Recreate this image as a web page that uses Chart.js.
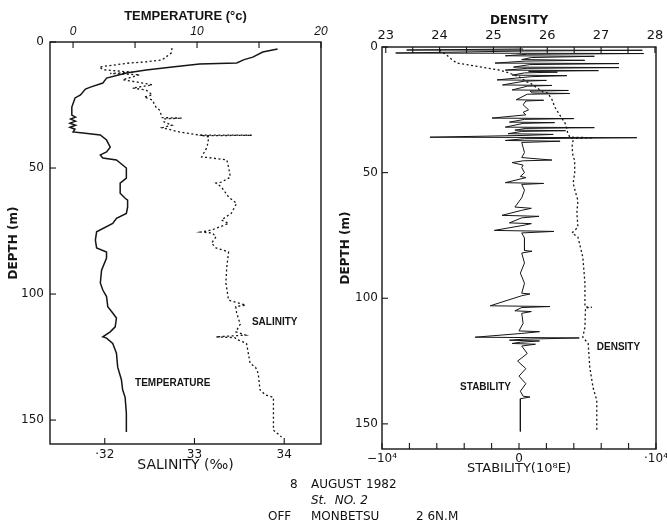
<!DOCTYPE html>
<html>
<head>
<meta charset="utf-8">
<script src="https://cdn.jsdelivr.net/npm/chart.js@4.4.0/dist/chart.umd.min.js"></script>
<style>
  html, body { margin: 0; padding: 0; background: #fff; }
  #page { position: relative; width: 667px; height: 523px; overflow: hidden; font-family: "DejaVu Sans", sans-serif; color: #111; }
  .panel { position: absolute; top: 0; height: 523px; }
  #left { left: 0; width: 332px; }
  #right { left: 332px; width: 335px; }
  .note { position: absolute; font-size: 12px; line-height: 14px; white-space: pre; }
</style>
</head>
<body>
<div id="page">
  <div class="panel" id="left"><canvas id="chartTS"></canvas></div>
  <div class="panel" id="right"><canvas id="chartDE"></canvas></div>
  <div class="note" style="left:290px; top:477px;">8</div>
  <div class="note" style="left:311px; top:477px;">AUGUST</div>
  <div class="note" style="left:366px; top:477px;">1982</div>
  <div class="note" style="left:311px; top:493px; font-style:italic;">St.  NO. 2</div>
  <div class="note" style="left:268px; top:509px;">OFF</div>
  <div class="note" style="left:311px; top:509px;">MONBETSU</div>
  <div class="note" style="left:416px; top:509px;">2 6N.M</div>
</div>
<script>
// depth (m) vs temperature (deg C)
const tempDepth = [2.8, 4, 6, 7, 8.3, 8.7, 9.9, 11.1, 12.3, 14.3,
  16.3, 17.9, 18.7, 21, 22.2, 25.8, 29, 29.8, 30.6, 31.4,
  32.2, 33, 33.8, 34.6, 35.7, 36.1, 36.9, 38.9, 41.7, 43.6,
  44.8, 46, 46.8, 48.8, 50, 54, 56, 60, 62, 62.7,
  65.5, 68, 70, 72, 75.3, 78.6, 81.7, 83.3, 85.7, 90.5,
  95.6, 98.4, 101, 105, 107.5, 109.5, 113, 115, 117, 117.5,
  119.6, 123.5, 129, 134, 138, 141, 147.4, 154.7];
const tempVal = [16.5, 15.3, 14.5, 13.8, 13.2, 10.2, 8.0, 5.9, 4.3, 2.7,
  2.4, 1.4, 1.0, 0.6, 0.16, -0.1, -0.1, 0.2, -0.2, 0.2,
  -0.25, 0.2, -0.25, 0.15, 0, 0.8, 2.2, 2.7, 3.0, 2.7,
  2.2, 2.4, 3.5, 4.0, 4.3, 4.3, 3.8, 3.8, 4.2, 4.4,
  4.4, 4.3, 3.5, 3.2, 1.9, 1.8, 1.9, 2.7, 2.7, 2.3,
  2.2, 2.4, 2.7, 2.8, 3.2, 3.5, 3.4, 3.0, 2.4, 2.7,
  3.2, 3.5, 3.6, 3.9, 4.0, 4.2, 4.3, 4.3];

// depth (m) vs salinity (permil)
const salDepth = [2.4, 4.4, 6, 7.1, 7.9, 8.3, 9.9, 11, 12, 12.5,
  13, 15, 15.8, 17, 18.3, 19, 21, 21.8, 23, 25.8,
  27, 29, 30, 30.2, 30.5, 31.7, 33, 34, 35.7, 36.9,
  37.0, 37.2, 37.7, 41.7, 45.6, 46, 46.8, 49.6, 53.6, 55.6,
  56, 57.5, 61.5, 64, 68, 70.6, 72, 74.6, 75.4, 75.8,
  77.3, 79.8, 81.7, 83.3, 89.3, 95.6, 102.4, 104.4, 105, 107.5,
  112, 115, 116.3, 117, 117.3, 118, 119.6, 123.5, 127.5, 129,
  131.5, 138, 140, 141, 147.4, 154, 156.7];
const salVal = [32.75, 32.74, 32.68, 32.64, 32.46, 32.28, 31.94, 31.98, 32.31, 32.06,
  32.39, 32.2, 32.35, 32.53, 32.31, 32.46, 32.53, 32.44, 32.53, 32.57,
  32.61, 32.63, 32.64, 32.86, 32.66, 32.66, 32.75, 32.64, 32.83, 33.05,
  33.64, 33.1, 33.16, 33.14, 33.08, 33.19, 33.36, 33.38, 33.4, 33.3,
  33.24, 33.3, 33.38, 33.47, 33.41, 33.3, 33.38, 33.19, 33.07, 33.2,
  33.24, 33.19, 33.24, 33.38, 33.36, 33.35, 33.38, 33.57, 33.46, 33.47,
  33.51, 33.46, 33.57, 33.24, 33.45, 33.47, 33.58, 33.6, 33.62, 33.68,
  33.71, 33.73, 33.79, 33.88, 33.88, 33.88, 33.97];

// depth (m) vs density (sigma-t)
const denDepth = [1.2, 3.2, 5.2, 6.4, 7.2, 8.4, 9.2, 10.4, 12, 13.9,
  14.3, 16.3, 17.9, 18.3, 21, 23.9, 27, 30.3, 32.3, 34.3,
  35.9, 36.1, 36.4, 37, 39.8, 43.8, 45, 50.2, 54.2, 59.8,
  61, 66, 71.7, 74, 75.7, 83.6, 94, 103.4, 103.6, 103.9,
  111.5, 115.5, 118, 127.5, 135.5, 140.6, 152.6];
const denVal = [24.0, 24.13, 24.24, 24.32, 24.56, 24.88, 25.12, 25.3, 25.49, 25.62,
  25.68, 25.81, 25.92, 26.01, 26.09, 26.14, 26.23, 26.33, 26.36, 26.38,
  26.42, 26.85, 26.45, 26.48, 26.46, 26.48, 26.51, 26.51, 26.48, 26.55,
  26.57, 26.55, 26.57, 26.46, 26.57, 26.66, 26.7, 26.7, 26.83, 26.71,
  26.7, 26.66, 26.76, 26.79, 26.85, 26.92, 26.92];

// depth (m) vs stability (10^-8 E)
const stabDepth = [0.8, 1.2, 1.3, 1.6, 2.4, 2.6, 2.9, 3.5, 3.7, 4.2,
  5.0, 5.3, 5.6, 6.4, 6.6, 7.0, 8.0, 8.2, 8.5, 9.2,
  9.4, 9.7, 10.0, 10.3, 11.2, 11.4, 11.8, 13.1, 13.3, 13.6,
  15.1, 15.3, 15.6, 17.1, 17.3, 17.6, 18.3, 18.5, 18.8, 21.0,
  21.2, 21.5, 23, 25, 26, 27, 28.3, 28.5, 28.8, 29.9,
  30.1, 30.4, 31.9, 32.1, 32.4, 33.1, 33.3, 33.6, 34.5, 34.8,
  35.2, 35.9, 36.1, 36.5, 37.2, 37.5, 38, 40, 42, 44,
  45, 45.3, 46, 47, 48, 50, 51.5, 52, 54, 54.3,
  54.7, 57, 60, 63.7, 64.2, 65, 67, 67.4, 68, 70,
  70.3, 71, 73, 73.4, 74, 76, 81, 81.3, 82, 86,
  90, 94, 98, 98.3, 99, 103, 103.3, 103.7, 105, 105.3,
  106, 110, 113, 113.3, 114, 115.5, 115.8, 116.3, 116.7, 117,
  117.5, 118, 118.3, 119, 122, 125, 128, 131, 134, 137,
  139, 139.3, 140, 145, 153];
const stabVal = [300, -8200, 9000, 400, -9000, 9100, 600, -1000, 5500, 900,
  200, 4800, 500, -1750, 7300, 800, -400, 7300, 600, -1000,
  5800, 700, 2800, 400, -500, 3500, 900, -1600, 2000, 400,
  -1200, 2400, 600, -500, 3600, 800, 1000, 3700, 600, -200,
  1800, 500, 300, 700, 300, 500, -1970, 4000, 400, -700,
  2600, 300, -1000, 5500, 500, -300, 3400, 200, -800, 2500,
  300, -6500, 8600, 400, -1000, 3000, 200, 300, 400, 200,
  2400, 300, -500, 300, 200, 400, 100, 500, -1000, 1800,
  200, 400, 200, -300, 900, 200, -1240, 1460, 200, -700,
  900, 300, -1800, 2550, 200, 400, 400, 950, 200, 400,
  100, 400, 200, 800, 200, -2100, 2260, 200, -300, 900,
  200, 300, 0, 1500, 200, -3200, 4400, 300, -700, 1500,
  100, -500, 1200, 200, 600, -100, 500, 0, 500, 100,
  300, 800, 100, 100, 100];

const INK = '#151515';
Chart.defaults.font.family = '"DejaVu Sans", sans-serif';
Chart.defaults.color = INK;

function pts(xs, ys) {
  return ys.map((d, i) => ({ x: xs[i], y: d }));
}

// fixed box sizes so the plot frames land where the original ones are
function fix(w, h) {
  return s => {
    if (w != null) s.width = w;
    if (h != null) s.height = h;
    s.paddingLeft = 0; s.paddingRight = 0; s.paddingTop = 0; s.paddingBottom = 0;
  };
}

// frame, inward tick marks and in-plot labels
const frame = {
  id: 'frame',
  afterDatasetsDraw(chart, args, opts) {
    const { ctx, chartArea: a } = chart;
    ctx.save();
    ctx.strokeStyle = INK;
    ctx.lineWidth = 1.4;
    ctx.strokeRect(a.left, a.top, a.right - a.left, a.bottom - a.top);
    ctx.lineWidth = 1.1;
    Object.values(chart.scales).forEach(s => {
      const len = 6;
      s.ticks.forEach(t => {
        const p = s.getPixelForValue(t.value);
        ctx.beginPath();
        if (s.position === 'top') { ctx.moveTo(p, a.top); ctx.lineTo(p, a.top + len); }
        else if (s.position === 'bottom') { ctx.moveTo(p, a.bottom); ctx.lineTo(p, a.bottom - len); }
        else { ctx.moveTo(a.left, p); ctx.lineTo(a.left + len, p); }
        ctx.stroke();
      });
    });
    ctx.fillStyle = INK;
    ctx.font = 'bold 10px "Liberation Sans", sans-serif';
    ctx.textBaseline = 'middle';
    (opts.labels || []).forEach(l => {
      const x = chart.scales[l.axis].getPixelForValue(l.x);
      const y = chart.scales.y.getPixelForValue(l.y);
      ctx.fillText(l.text, x, y);
    });
    ctx.restore();
  }
};

function lineSet(data, axis, width, dash) {
  return {
    data: data, xAxisID: axis, yAxisID: 'y', showLine: true,
    borderColor: INK, borderWidth: width, borderDash: dash || [],
    pointRadius: 0, tension: 0, fill: false
  };
}

function depthAxis(max, labelPad) {
  return {
    type: 'linear', position: 'left', reverse: true, min: 0, max: max,
    afterFit: fix(50, null),
    grid: { display: false, drawTicks: false }, border: { display: false },
    ticks: { stepSize: 50, autoSkip: false, includeBounds: false, padding: labelPad,
      font: { size: 12 } },
    title: { display: true, text: 'DEPTH (m)', font: { size: 12, weight: 'bold' },
      padding: { top: 7, bottom: 0 } }
  };
}

const common = {
  type: 'scatter',
  plugins: [frame]
};

new Chart(document.getElementById('chartTS'), {
  ...common,
  data: {
    datasets: [
      lineSet(pts(tempVal, tempDepth), 'xT', 1.5),
      lineSet(pts(salVal, salDepth), 'xS', 1.3, [2, 2.5])
    ]
  },
  options: {
    responsive: true, maintainAspectRatio: false, animation: false, events: [],
    layout: { padding: { left: 0, right: 11, top: 0, bottom: 0 } },
    plugins: {
      legend: { display: false }, tooltip: { enabled: false },
      frame: { labels: [
        { text: 'SALINITY', axis: 'xS', x: 33.64, y: 111 },
        { text: 'TEMPERATURE', axis: 'xT', x: 5.0, y: 135.5 }
      ] }
    },
    scales: {
      xT: {
        type: 'linear', position: 'top', min: -1.86, max: 20,
        afterFit: fix(null, 42),
        grid: { display: false, drawTicks: false }, border: { display: false },
        ticks: { stepSize: 5, autoSkip: false, includeBounds: false, padding: 3, maxRotation: 0,
          font: { size: 12, style: 'italic', family: '"Liberation Sans", sans-serif' },
          callback: v => (v % 10 === 0 ? String(v) : '') },
        title: { display: true, text: 'TEMPERATURE (°c)',
          font: { size: 13, weight: 'bold', family: '"Liberation Sans", sans-serif' },
          padding: { top: 9, bottom: 0 } }
      },
      xS: {
        type: 'linear', position: 'bottom', min: 31.39, max: 34.41,
        afterFit: fix(null, 79),
        grid: { display: false, drawTicks: false }, border: { display: false },
        ticks: { stepSize: 1, autoSkip: false, includeBounds: false, padding: 4, maxRotation: 0,
          font: { size: 12 },
          callback: v => (v === 32 ? '·32' : String(v)) },
        title: { display: true, text: 'SALINITY (‰)', font: { size: 14 },
          padding: { top: 0, bottom: 49 } }
      },
      y: depthAxis(159.5, 6)
    }
  }
});

new Chart(document.getElementById('chartDE'), {
  ...common,
  data: {
    datasets: [
      lineSet(pts(stabVal, stabDepth), 'xE', 1),
      lineSet(pts(denVal, denDepth), 'xD', 1.3, [2, 2.5])
    ]
  },
  options: {
    responsive: true, maintainAspectRatio: false, animation: false, events: [],
    layout: { padding: { left: 0, right: 11, top: 0, bottom: 0 } },
    plugins: {
      legend: { display: false }, tooltip: { enabled: false },
      frame: { labels: [
        { text: 'DENSITY', axis: 'xD', x: 26.92, y: 119.5 },
        { text: 'STABILITY', axis: 'xE', x: -4300, y: 135.5 }
      ] }
    },
    scales: {
      xD: {
        type: 'linear', position: 'top', min: 22.93, max: 28.02,
        afterFit: fix(null, 47),
        grid: { display: false, drawTicks: false }, border: { display: false },
        ticks: { stepSize: 0.5, autoSkip: false, includeBounds: false, padding: 4, maxRotation: 0,
          font: { size: 13 },
          callback: v => (Number.isInteger(v) ? String(v) : '') },
        title: { display: true, text: 'DENSITY', font: { size: 12, weight: 'bold' },
          padding: { top: 14, bottom: 0 } }
      },
      xE: {
        type: 'linear', position: 'bottom', min: -10000, max: 10000,
        afterFit: fix(null, 74),
        grid: { display: false, drawTicks: false }, border: { display: false },
        ticks: { stepSize: 2000, autoSkip: false, includeBounds: false, padding: 3, maxRotation: 0,
          font: { size: 12 },
          callback: v => (v === -10000 ? '−10⁴' : v === 0 ? '0' : v === 10000 ? '·10⁴' : '') },
        title: { display: true, text: 'STABILITY(10⁸E)', font: { size: 13 },
          padding: { top: 0, bottom: 47 } }
      },
      y: depthAxis(160, 4)
    }
  }
});
</script>
</body>
</html>
